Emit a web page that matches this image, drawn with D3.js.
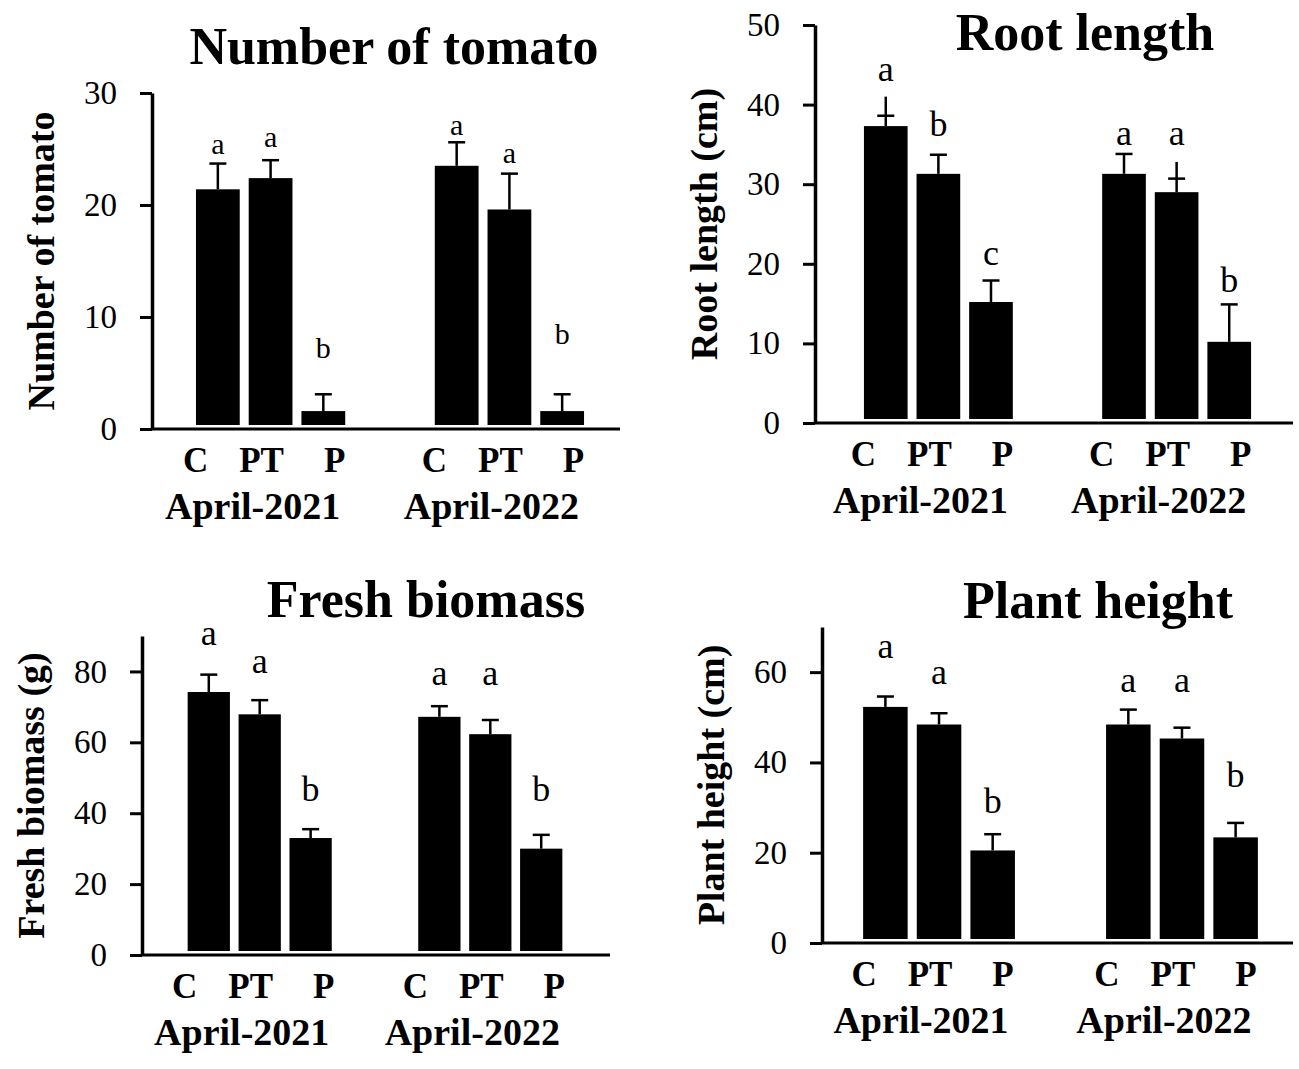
<!DOCTYPE html>
<html>
<head>
<meta charset="utf-8">
<script src="https://cdn.jsdelivr.net/npm/d3@7/dist/d3.min.js"></script>
<style>
  body { margin: 0; background: #fff; }
  svg text { font-family: "Liberation Serif", "Times New Roman", serif; fill: #000; }
</style>
</head>
<body>
<svg width="1299" height="1069"></svg>
<script>
// categories
let treatments = ["C", "PT", "P"];
let years      = ["April-2021", "April-2022"];

// series values, order: 2021 C, PT, P, 2022 C, PT, P
let tomatoMean    = [21.4, 22.4, 1.6, 23.5, 19.6, 1.6];
let tomatoErr     = [2.3, 1.6, 1.5, 2.1, 3.2, 1.5];
let tomatoLetters = ["a", "a", "b", "a", "a", "b"];

let rootMean    = [37.3, 31.3, 15.2, 31.3, 29.0, 10.2];
let rootErr     = [3.7, 2.4, 2.7, 2.5, 3.8, 4.7];
let rootCapErr  = [1.3, 2.4, 2.7, 2.5, 1.7, 4.7];   // where the cap sits
let rootLetters = ["a", "b", "c", "a", "a", "b"];

let biomassMean    = [74.2, 67.9, 33.0, 67.2, 62.3, 30.0];
let biomassErr     = [4.9, 4.0, 2.5, 3.0, 4.0, 3.9];
let biomassLetters = ["a", "a", "b", "a", "a", "b"];

let heightMean    = [52.3, 48.4, 20.5, 48.4, 45.3, 23.4];
let heightErr     = [2.3, 2.5, 3.6, 3.3, 2.4, 3.2];
let heightLetters = ["a", "a", "b", "a", "a", "b"];

// tick labels
let tomatoTicks  = [0, 10, 20, 30];
let rootTicks    = [0, 10, 20, 30, 40, 50];
let biomassTicks = [0, 20, 40, 60, 80];
let heightTicks  = [0, 20, 40, 60];

let panels = [
    {
        title: "Number of tomato", yTitle: "Number of tomato",
        mean: tomatoMean, err: tomatoErr, cap: tomatoErr, letters: tomatoLetters,
        ticks: tomatoTicks, yMax: 30,
        axisX: 152, y0: 429, yTop: 93, xEnd: 620, band: [35, 441],
        titleX: 394, titleY: 64, letterSize: 30,
        lift: [10, 13, 36, 7, 11, 50]
    },
    {
        title: "Root length", yTitle: "Root length (cm)",
        mean: rootMean, err: rootErr, cap: rootCapErr, letters: rootLetters,
        ticks: rootTicks, yMax: 50,
        axisX: 815, y0: 423, yTop: 25, xEnd: 1293, band: [40, 445],
        titleX: 1085, titleY: 50, letterSize: 36,
        lift: [16, 19, 16, 9, 17, 12]
    },
    {
        title: "Fresh biomass", yTitle: "Fresh biomass (g)",
        mean: biomassMean, err: biomassErr, cap: biomassErr, letters: biomassLetters,
        ticks: biomassTicks, yMax: 90,
        axisX: 142, y0: 955, yTop: 636, xEnd: 610, band: [37, 429],
        titleX: 426, titleY: 617, letterSize: 36,
        lift: [30, 27, 28, 21, 35, 34]
    },
    {
        title: "Plant height", yTitle: "Plant height (cm)",
        mean: heightMean, err: heightErr, cap: heightErr, letters: heightLetters,
        ticks: heightTicks, yMax: 70,
        axisX: 822, y0: 943, yTop: 627, xEnd: 1293, band: [32, 445],
        titleX: 1098, titleY: 618, letterSize: 36,
        lift: [39, 29, 21, 18, 36, 36]
    }
];

let LABEL_OFFSETS = [-75, -9, 64],
    YEAR_OFFSET   = -18,
    BAR_GAP       = 4,
    CAP_HALF      = 8.5;

let svg = d3.select("svg");

panels.forEach(function (p) {
    let g = svg.append("g");

    let y = d3.scaleLinear().domain([0, p.yMax]).range([p.y0, p.yTop]);

    let xYear = d3.scaleBand()
                  .domain(years)
                  .range([p.axisX + p.band[0], p.axisX + p.band[1]])
                  .paddingInner(0.3)
                  .paddingOuter(0);

    let xTreat = d3.scaleBand()
                   .domain(treatments)
                   .range([0, xYear.bandwidth()])
                   .padding(0.17);

    let rows = p.mean.map(function (m, i) {
        let yr = years[Math.floor(i / 3)], tr = treatments[i % 3];
        return {
            year: yr, treat: tr, mean: m, err: p.err[i], cap: p.cap[i],
            letter: p.letters[i], lift: p.lift[i],
            x: xYear(yr) + xTreat(tr)
        };
    });

    // bars
    g.selectAll("rect.bar")
     .data(rows)
     .enter()
     .append("rect")
     .attr("class", "bar")
     .attr("x", d => d.x)
     .attr("width", xTreat.bandwidth())
     .attr("y", d => y(d.mean))
     .attr("height", d => y(0) - BAR_GAP - y(d.mean))
     .attr("fill", "#000");

    // error bars (upper only)
    let cx = d => d.x + xTreat.bandwidth() / 2;
    g.selectAll("line.err")
     .data(rows)
     .enter()
     .append("line")
     .attr("x1", cx).attr("x2", cx)
     .attr("y1", d => y(d.mean))
     .attr("y2", d => y(d.mean + d.err))
     .attr("stroke", "#000")
     .attr("stroke-width", 2.5);

    g.selectAll("line.cap")
     .data(rows)
     .enter()
     .append("line")
     .attr("x1", d => cx(d) - CAP_HALF).attr("x2", d => cx(d) + CAP_HALF)
     .attr("y1", d => y(d.mean + d.cap))
     .attr("y2", d => y(d.mean + d.cap))
     .attr("stroke", "#000")
     .attr("stroke-width", 2.5);

    // significance letters
    g.selectAll("text.letter")
     .data(rows)
     .enter()
     .append("text")
     .attr("x", cx)
     .attr("y", d => y(d.mean + d.err) - d.lift)
     .attr("text-anchor", "middle")
     .style("font-size", p.letterSize + "px")
     .text(d => d.letter);

    // y axis
    let yAxis = g.append("g")
                 .attr("transform", "translate(" + p.axisX + ",0)")
                 .call(d3.axisLeft(y).tickValues(p.ticks).tickSize(12).tickSizeOuter(0).tickPadding(23));
    yAxis.select(".domain").attr("stroke", "#000").attr("stroke-width", 3.5);
    yAxis.selectAll(".tick line").attr("stroke", "#000").attr("stroke-width", 3);
    yAxis.selectAll(".tick text")
         .attr("fill", "#000")
         .style("font-family", "'Liberation Serif', 'Times New Roman', serif")
         .style("font-size", "33px");

    // x axis line
    g.append("line")
     .attr("x1", p.axisX).attr("x2", p.xEnd)
     .attr("y1", y(0)).attr("y2", y(0))
     .attr("stroke", "#000")
     .attr("stroke-width", 3);

    // treatment and year labels
    years.forEach(function (yr) {
        let gc = xYear(yr) + xYear.bandwidth() / 2;
        treatments.forEach(function (tr, j) {
            g.append("text")
             .attr("x", gc + LABEL_OFFSETS[j])
             .attr("y", y(0) + 43)
             .attr("text-anchor", "middle")
             .style("font-size", "35px")
             .style("font-weight", "bold")
             .text(tr);
        });
        g.append("text")
         .attr("x", gc + YEAR_OFFSET)
         .attr("y", y(0) + 90)
         .attr("text-anchor", "middle")
         .style("font-size", "38px")
         .style("font-weight", "bold")
         .text(yr);
    });

    // titles
    g.append("text")
     .attr("x", p.titleX)
     .attr("y", p.titleY)
     .attr("text-anchor", "middle")
     .style("font-size", "52px")
     .style("font-weight", "bold")
     .text(p.title);

    g.append("text")
     .attr("transform", "translate(" + (p.axisX - 98) + "," + ((p.y0 + p.yTop) / 2) + ") rotate(-90)")
     .attr("text-anchor", "middle")
     .style("font-size", "38px")
     .style("font-weight", "bold")
     .text(p.yTitle);
});
</script>
</body>
</html>
